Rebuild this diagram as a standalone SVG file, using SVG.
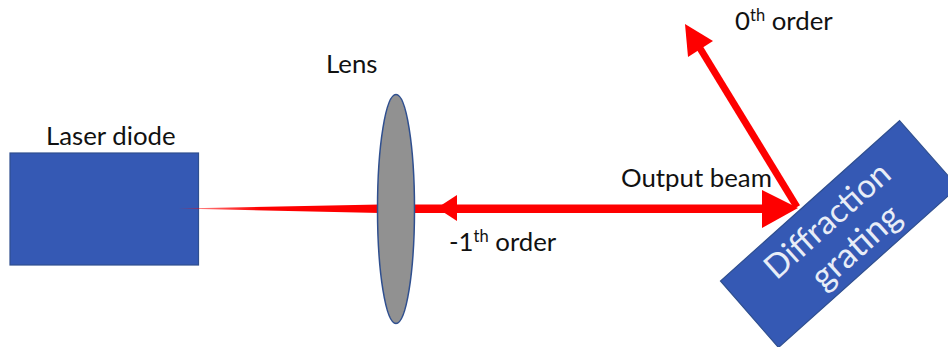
<svg xmlns="http://www.w3.org/2000/svg" width="948" height="347" viewBox="0 0 948 347">
<style>
.t{font-family:Lato,"Open Sans","Liberation Sans",sans-serif;font-size:25.800px;fill:#111}
.w{font-family:Lato,"Open Sans","Liberation Sans",sans-serif;font-size:33px;fill:#e8edf7;text-anchor:middle}
.s{font-size:16.500px}
.b{fill:#3559b4;stroke:#2f4f8f;stroke-width:1.2}
.r{fill:#fe0000}
</style>
<defs><linearGradient id="fade" x1="178" x2="260" y1="0" y2="0" gradientUnits="userSpaceOnUse"><stop offset="0" stop-color="#fe0000" stop-opacity=".35"/><stop offset="1" stop-color="#fe0000"/></linearGradient></defs>
<rect width="948" height="347" fill="#fff"/>
<g id="laser-diode"><rect class="b" x="10" y="153" width="188.500" height="112"/><text class="t" x="46" y="145">Laser diode</text></g>
<g id="connectors">
<polygon fill="url(#fade)" points="178,208.500 380,204.500 380,213"/>
<rect class="r" x="412" y="204.500" width="355" height="8.500"/>
<polygon class="r" points="437,208 457,195 457,221"/>
<polygon class="r" points="798,208 762,190 762,228"/>
<line x1="797" y1="207" x2="698" y2="45" stroke="#fe0000" stroke-width="7"/>
<polygon class="r" points="685,24 713,41 688,57"/>
</g>
<g id="lens"><ellipse cx="396" cy="209" rx="18.500" ry="114.500" fill="#919191" stroke="#2f4f8f" stroke-width="1.500"/><text class="t" x="326" y="73">Lens</text></g>
<g id="grating"><polygon class="b" points="899.500,120.700 720.500,281 778.500,347.500 958,187"/>
<g transform="rotate(-41.800 838 234)"><text class="w" x="839" y="228">Diffraction</text><text class="w" x="843" y="267" style="font-size:35px">grating</text></g></g>
<text id="output-label" class="t" x="621" y="187">Output beam</text>
<text id="order0-label" class="t" x="735" y="30">0<tspan class="s" dy="-9">th</tspan><tspan dy="9"> order</tspan></text>
<text id="order1-label" class="t" x="449" y="251">-1<tspan class="s" dy="-9">th</tspan><tspan dy="9"> order</tspan></text>
</svg>
